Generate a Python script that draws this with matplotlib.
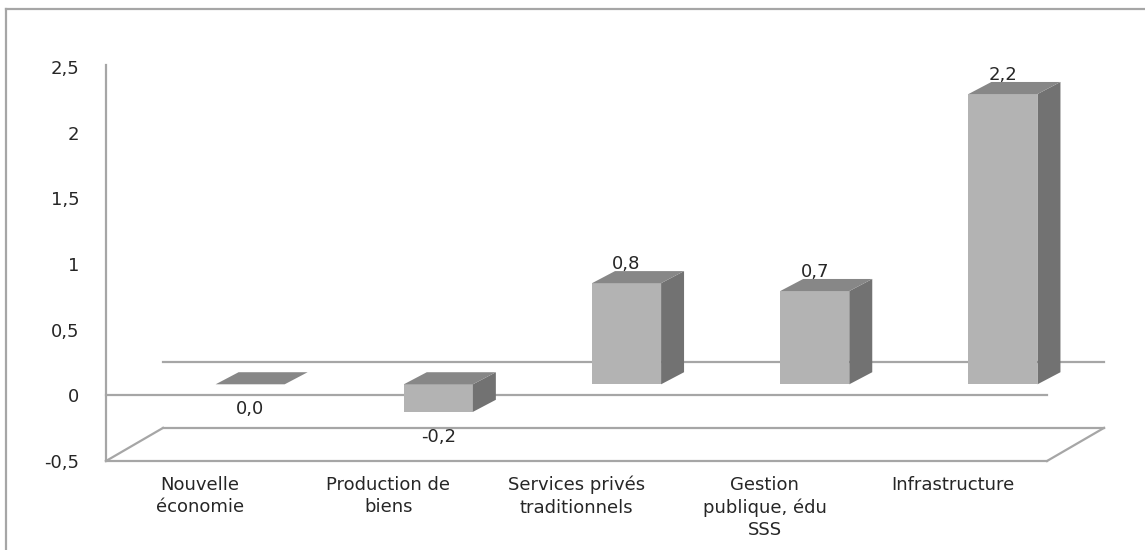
"""3D-style column chart: contribution by sector (Excel look)."""

from __future__ import annotations

import matplotlib

matplotlib.use("Agg")
import matplotlib.pyplot as plt
from matplotlib.lines import Line2D
from matplotlib.patches import Polygon

CATEGORIES = [
    "Nouvelle\néconomie",
    "Production de\nbiens",
    "Services privés\ntraditionnels",
    "Gestion\npublique, édu\nSSS",
    "Infrastructure",
]
VALUES = [0.0, -0.21, 0.77, 0.71, 2.21]
Y_TICKS = [-0.5, 0, 0.5, 1, 1.5, 2, 2.5]

# Pseudo-3D geometry, in data units
DEPTH_X, DEPTH_Y = 0.303, 0.252      # floor / wall depth offset
BAR_SHIFT, BAR_W = 0.266, 0.367      # front face centre offset and width
BAR_BASE = 0.084                     # lift of the bar front face
SIDE_X, SIDE_Y = 0.122, 0.092        # bar depth

LINE = "#a6a6a6"
TEXT = "#262626"
FRONT, SIDE, TOP = "#b3b3b3", "#727272", "#878787"
FONT_SIZE = 13


def fmt(v: float) -> str:
    s = f"{v:.1f}".replace(".", ",")
    return s.replace("-0,0", "0,0")


def draw_bar(ax, i: int, v: float) -> None:
    x0 = i + BAR_SHIFT - BAR_W / 2
    x1 = x0 + BAR_W
    lo = BAR_BASE + min(v, 0)
    hi = BAR_BASE + max(v, 0)
    top_y = BAR_BASE if v <= 0 else hi
    kw = dict(closed=True, clip_on=False, linewidth=0, zorder=5)
    if hi > lo:
        ax.add_patch(Polygon([(x0, lo), (x1, lo), (x1, hi), (x0, hi)], facecolor=FRONT, **kw))
        ax.add_patch(Polygon([(x1, lo), (x1 + SIDE_X, lo + SIDE_Y),
                              (x1 + SIDE_X, hi + SIDE_Y), (x1, hi)], facecolor=SIDE, **kw))
    ax.add_patch(Polygon([(x0, top_y), (x1, top_y), (x1 + SIDE_X, top_y + SIDE_Y),
                          (x0 + SIDE_X, top_y + SIDE_Y)], facecolor=TOP, **kw))

    cx = i + BAR_SHIFT
    if v > 0:
        ax.annotate(fmt(v), (cx, hi), xytext=(0, 14), textcoords="offset points",
                    ha="center", va="center", fontsize=FONT_SIZE, color=TEXT, zorder=6)
    else:
        ax.annotate(fmt(v), (cx, lo), xytext=(0, -18), textcoords="offset points",
                    ha="center", va="center", fontsize=FONT_SIZE, color=TEXT, zorder=6)


def main() -> None:
    W, H = 1145, 550
    fig = plt.figure(figsize=(W / 100, H / 100), dpi=100)
    fig.patch.set_facecolor("white")

    # outer chart frame (cut off on right and bottom)
    fig.add_artist(Line2D([6 / W, 1], [1 - 9 / H, 1 - 9 / H], color=LINE, lw=1.6))
    fig.add_artist(Line2D([6 / W, 6 / W], [0, 1 - 9 / H], color=LINE, lw=1.6))

    left, right, bottom, top = 106, 1047, 461, 67
    ax = fig.add_axes([left / W, 1 - bottom / H, (right - left) / W, (bottom - top) / H])
    n = len(CATEGORIES)
    ax.set_xlim(-0.5, n - 0.5)
    ax.set_ylim(Y_TICKS[0], Y_TICKS[-1])
    ax.set_facecolor("none")

    for side in ("top", "right"):
        ax.spines[side].set_visible(False)
    for side in ("left", "bottom"):
        ax.spines[side].set_color(LINE)
        ax.spines[side].set_linewidth(1.6)
    ax.spines["left"].set_bounds(Y_TICKS[0], Y_TICKS[-1] + 0.015)

    ax.set_yticks(Y_TICKS)
    ax.set_yticklabels([fmt(t) if t != int(t) else str(int(t)) for t in Y_TICKS])
    ax.set_xticks(range(n))
    ax.set_xticklabels(CATEGORIES, linespacing=1.32)
    ax.tick_params(axis="y", length=0, pad=19, labelsize=FONT_SIZE, labelcolor=TEXT)
    ax.tick_params(axis="x", length=0, pad=10.5, labelsize=FONT_SIZE, labelcolor=TEXT)

    y0 = Y_TICKS[0]
    xa, xb = -0.5, n - 0.5
    line_kw = dict(color=LINE, lw=1.6, clip_on=False, zorder=1)
    # floor
    ax.plot([xa + DEPTH_X, xb + DEPTH_X], [y0 + DEPTH_Y] * 2, **line_kw)
    ax.plot([xa, xa + DEPTH_X], [y0, y0 + DEPTH_Y], **line_kw)
    ax.plot([xb, xb + DEPTH_X], [y0, y0 + DEPTH_Y], **line_kw)
    # zero lines, front and back
    ax.plot([xa, xb], [0, 0], **line_kw)
    ax.plot([xa + DEPTH_X, xb + DEPTH_X], [DEPTH_Y, DEPTH_Y], **line_kw)

    for i, v in enumerate(VALUES):
        draw_bar(ax, i, v)

    fig.savefig("out.png", dpi=100)
    plt.close(fig)


if __name__ == "__main__":
    main()
